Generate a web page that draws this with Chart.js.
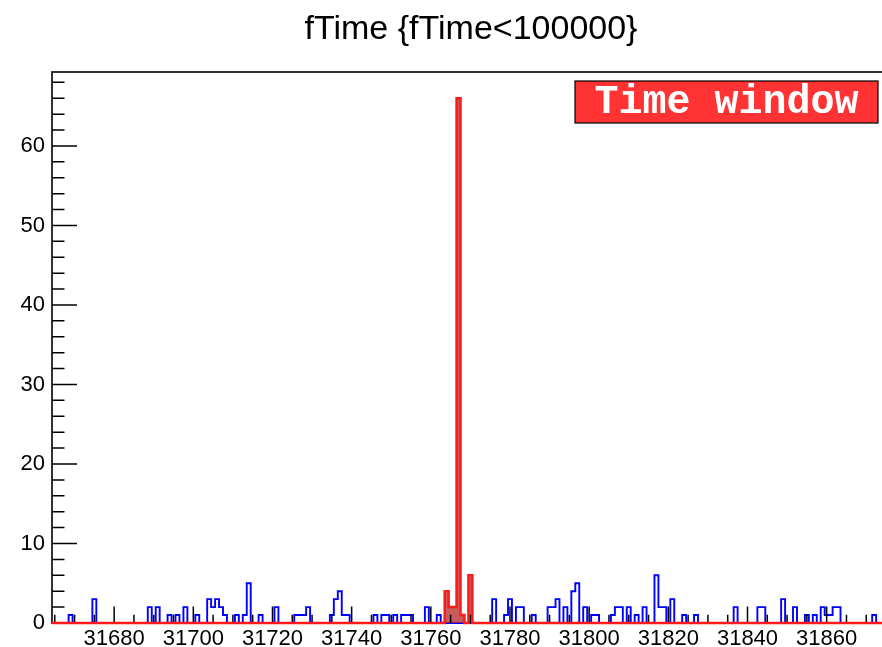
<!DOCTYPE html>
<html>
<head>
<meta charset="utf-8">
<script src="https://cdn.jsdelivr.net/npm/chart.js@4"></script>
<style>
html,body{margin:0;padding:0;overflow:hidden;background:#fff}
canvas{display:block}
</style>
</head>
<body>
<canvas id="c" width="900" height="647"></canvas>
<script>
// ---------------- data ----------------
const titleText = 'fTime {fTime<100000}';
const legendText = 'Time window';
const xMin = 31664.3;
const xMax = 31876;
const yMax = 69.3;
const xStep = 5;      // minor tick step
const xLabelEvery = 20;
const yStep = 2;
const yLabelEvery = 10;

// blue histogram: all entries (bin centre -> count)
const blueBins = [31669,31675,31689,31691,31694,31696,31698,31701,31704,31705,31706,31707,31708,31711,31713,31714,31717,31721,31726,31727,31728,31729,31735,31736,31737,31738,31739,31746,31748,31749,31751,31753,31754,31755,31759,31762,31776,31779,31780,31782,31783,31786,31790,31791,31792,31794,31796,31797,31799,31801,31802,31806,31807,31808,31810,31812,31814,31817,31818,31819,31821,31824,31827,31837,31843,31844,31849,31852,31855,31857,31859,31860,31861,31862,31863,31872];
const blueCounts = [1,3,2,2,1,1,2,1,3,2,3,2,1,1,1,5,1,2,1,1,1,2,1,3,4,1,1,1,1,1,1,1,1,1,2,1,3,1,3,2,2,1,2,2,3,2,4,5,2,1,1,1,2,2,2,1,2,6,2,2,3,1,1,2,2,2,3,2,1,1,2,1,1,2,2,1];

// red histogram: entries inside the time window
const redBins = [31764,31765,31766,31767,31768,31769,31770];
const redCounts = [4,2,2,66,1,0,6];

// ---------------- helpers ----------------
function histSteps(bins, counts, lo, hi) {
  const m = new Map();
  bins.forEach((b, i) => m.set(b, counts[i]));
  const pts = [{x: lo, y: 0}];
  for (let n = Math.ceil(lo + 0.5); n + 0.5 <= hi; n++) {
    pts.push({x: n - 0.5, y: m.get(n) || 0});
  }
  pts.push({x: hi, y: 0});
  return pts;
}

const rootPlugin = {
  id: 'rootDecor',
  beforeDatasetsDraw(chart) {
    const {ctx, chartArea: a} = chart;
    ctx.save();
    ctx.strokeStyle = '#000';
    ctx.lineWidth = 1.6;
    ctx.strokeRect(a.left, a.top, a.right - a.left, a.bottom - a.top);
    ctx.restore();
  },
  beforeDatasetDraw(chart, args) {
    if (args.index !== 0) return;
    const {ctx, chartArea: a, scales: {x, y}} = chart;
    ctx.save();
    ctx.strokeStyle = '#000';
    ctx.lineWidth = 1.5;
    ctx.beginPath();
    x.ticks.forEach(t => {
      const px = x.getPixelForValue(t.value);
      const len = (t.value % xLabelEvery === 0) ? 16.5 : 8.3;
      ctx.moveTo(px, a.bottom);
      ctx.lineTo(px, a.bottom - len);
    });
    y.ticks.forEach(t => {
      const py = y.getPixelForValue(t.value);
      const len = (t.value % yLabelEvery === 0) ? 25 : 12.5;
      ctx.moveTo(a.left, py);
      ctx.lineTo(a.left + len, py);
    });
    ctx.stroke();
    ctx.restore();
  },
  afterDraw(chart) {
    const {ctx, chartArea: a} = chart;
    const w = 303, h = 42;
    const bx = a.right - 12 - w, by = a.top + 9;
    ctx.save();
    ctx.fillStyle = '#ff3333';
    ctx.fillRect(bx, by, w, h);
    ctx.strokeStyle = '#000';
    ctx.lineWidth = 1.2;
    ctx.strokeRect(bx, by, w, h);
    ctx.fillStyle = '#ffffff';
    ctx.font = 'bold 40px "Liberation Mono", "Courier New", monospace';
    ctx.textAlign = 'center';
    ctx.textBaseline = 'alphabetic';
    ctx.fillText(legendText, bx + w / 2, by + 32);
    ctx.restore();
  }
};

new Chart(document.getElementById('c'), {
  type: 'line',
  data: {
    datasets: [
      {
        label: 'window',
        data: histSteps(redBins, redCounts, xMin, xMax),
        stepped: true,
        borderColor: '#ff1a1a',
        borderWidth: 2.5,
        backgroundColor: 'rgba(185,45,45,0.78)',
        fill: 'origin',
        pointRadius: 0,
        clip: false
      },
      {
        label: 'all',
        data: histSteps(blueBins, blueCounts, xMin, xMax),
        stepped: true,
        borderColor: '#0000ff',
        borderWidth: 1.9,
        fill: false,
        pointRadius: 0,
        clip: false
      }
    ]
  },
  options: {
    responsive: false,
    animation: false,
    events: [],
    layout: {padding: {left: 0, right: 10, top: 0, bottom: 0}},
    plugins: {
      legend: {display: false},
      tooltip: {enabled: false},
      title: {
        display: true,
        text: titleText,
        fullSize: false,
        color: '#000',
        font: {family: '"Liberation Sans", Arial, sans-serif', size: 34, weight: 'normal'},
        padding: {top: 9.6, bottom: 21.6}
      }
    },
    scales: {
      x: {
        type: 'linear',
        min: xMin,
        max: xMax,
        grid: {display: false, drawTicks: false},
        border: {display: false},
        afterFit: s => { s.height = 24; },
        ticks: {
          stepSize: xStep,
          includeBounds: false,
          autoSkip: false,
          maxRotation: 0,
          minRotation: 0,
          padding: 3,
          color: '#000',
          font: {family: '"Liberation Sans", Arial, sans-serif', size: 22},
          callback: v => (v % xLabelEvery === 0 ? String(v) : '')
        }
      },
      y: {
        type: 'linear',
        min: 0,
        max: yMax,
        grid: {display: false, drawTicks: false},
        border: {display: false},
        afterFit: s => { s.width = 52; },
        ticks: {
          stepSize: yStep,
          includeBounds: false,
          autoSkip: false,
          padding: 7,
          color: '#000',
          font: {family: '"Liberation Sans", Arial, sans-serif', size: 22},
          callback: v => (v % yLabelEvery === 0 ? String(v) : '')
        }
      }
    }
  },
  plugins: [rootPlugin]
});
</script>
</body>
</html>
